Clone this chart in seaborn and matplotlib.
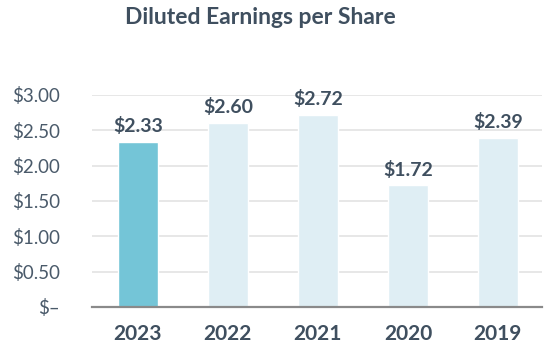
import matplotlib
matplotlib.use("Agg")
import matplotlib.pyplot as plt
import seaborn as sns
import pandas as pd

years = ["2023", "2022", "2021", "2020", "2019"]
eps = [2.33, 2.60, 2.72, 1.72, 2.39]
value_labels = ["$2.33", "$2.60", "$2.72", "$1.72", "$2.39"]
ytick_vals = [0, 0.5, 1.0, 1.5, 2.0, 2.5, 3.0]
ytick_labels = ["$\u2013", "$0.50", "$1.00", "$1.50", "$2.00", "$2.50", "$3.00"]
title = "Diluted Earnings per Share"

sns.set_style("white")
plt.rcParams["font.family"] = ["Lato", "DejaVu Sans"]

text_col = "#3f4f5f"
colors = ["#74c5d7", "#dfeef4", "#dfeef4", "#dfeef4", "#dfeef4"]

df = pd.DataFrame({"year": years, "eps": eps})

fig = plt.figure(figsize=(5.6, 3.6), dpi=100)
ax = fig.add_axes([92/560, 1-307/360, 450/560, 212/360])

sns.barplot(data=df, x="year", y="eps", hue="year", palette=colors, legend=False,
            width=0.444, ax=ax, saturation=1)

ax.set_ylim(0, 3.0)
ax.set_xlim(-0.51, 4.49)
ax.set_yticks(ytick_vals)
ax.set_yticklabels(ytick_labels)
ax.yaxis.grid(True, color="#e3e3e3", linewidth=1.2)
ax.set_axisbelow(True)
for s in ["top", "right", "left"]:
    ax.spines[s].set_visible(False)
ax.spines["bottom"].set_color("#8a8a8a")
ax.spines["bottom"].set_linewidth(1.6)
ax.spines["bottom"].set_zorder(5)
ax.tick_params(axis="y", length=0, pad=23, labelsize=13.5, labelcolor="#4a5a6a")
ax.tick_params(axis="x", length=0, pad=12, labelsize=15, labelcolor=text_col)
for lab in ax.get_xticklabels():
    lab.set_fontweight("bold")
ax.set_xlabel("")
ax.set_ylabel("")

for i, (v, t) in enumerate(zip(eps, value_labels)):
    ax.annotate(t, (i, v), xytext=(0, 5), textcoords="offset points",
                ha="center", va="bottom", fontsize=14, fontweight="bold", color=text_col)

fig.text(260/560, 1-17/360, title, ha="center", va="center", fontsize=16.5,
         fontweight="bold", color=text_col)

fig.savefig("out.png", dpi=100)
